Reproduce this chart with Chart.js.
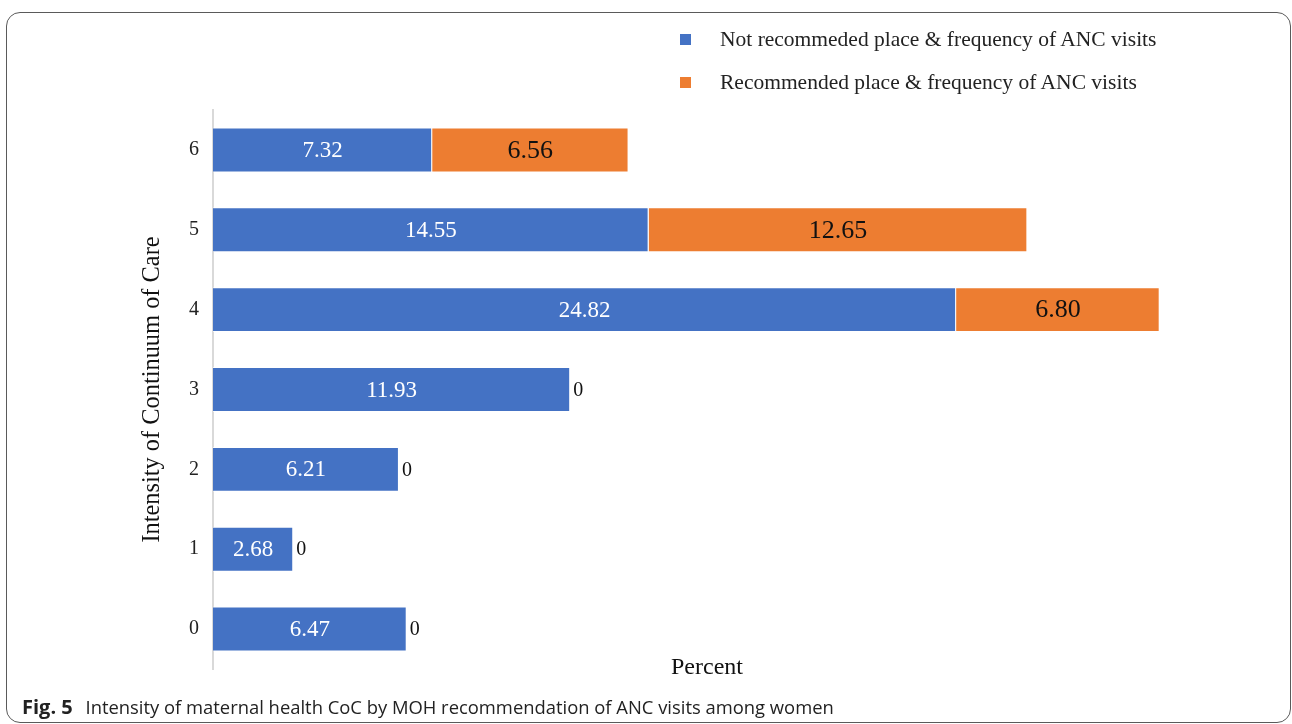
<!DOCTYPE html>
<html>
<head>
<meta charset="utf-8">
<script src="https://cdn.jsdelivr.net/npm/chart.js@4.4.1/dist/chart.umd.min.js"></script>
<style>
  html, body { margin: 0; padding: 0; background: #fff; }
  body { width: 1292px; height: 724px; position: relative; overflow: hidden; }
  #frame {
    position: absolute; left: 6px; top: 12px; width: 1285px; height: 711px;
    box-sizing: border-box; border: 1.5px solid #5a5a5a; border-radius: 14px;
  }
  #wrap { position: absolute; left: 0; top: 0; width: 1292px; height: 700px; }
  #legend {
    position: absolute; left: 680px; top: 22px;
    font-family: "Liberation Serif", "Times New Roman", serif; font-size: 21.5px; color: #222;
  }
  .row { display: flex; align-items: center; height: 34px; margin-bottom: 9px; }
  .sw { width: 11px; height: 11px; margin-right: 29px; }
  #caption {
    position: absolute; left: 22px; top: 693px; white-space: nowrap;
    font-family: "Open Sans", "Noto Sans", sans-serif; font-size: 18.4px; color: #222;
  }
  #caption b { font-weight: 700; font-size: 20px; margin-right: 8px; }
</style>
</head>
<body>
<div id="frame"></div>
<div id="wrap"><canvas id="chart"></canvas></div>
<div id="legend"></div>
<div id="caption"><b>Fig. 5</b> Intensity of maternal health CoC by MOH recommendation of ANC visits among women</div>
<script>
// intensity levels, top to bottom as drawn
const categories = ['6', '5', '4', '3', '2', '1', '0'];
const notRecommended = [7.32, 14.55, 24.82, 11.93, 6.21, 2.68, 6.47];
const recommended = [6.56, 12.65, 6.80, 0, 0, 0, 0];

const seriesNames = [
    'Not recommeded place & frequency of ANC visits',
    'Recommended place & frequency of ANC visits'
];
const BLUE = '#4472C4';
const ORANGE = '#ED7D31';
const SERIF = '"Liberation Serif", "Times New Roman", serif';

// value labels: white inside blue, larger black inside orange, "0" after the bar
const barLabels = {
    id: 'barLabels',
    afterDatasetsDraw(chart) {
        const ctx = chart.ctx;
        ctx.save();
        ctx.textBaseline = 'middle';
        chart.data.datasets.forEach((ds, i) => {
            const meta = chart.getDatasetMeta(i);
            meta.data.forEach((bar, j) => {
                const v = ds.data[j];
                if (v === 0) {
                    ctx.font = '20px ' + SERIF;
                    ctx.fillStyle = '#111';
                    ctx.textAlign = 'left';
                    ctx.fillText('0', bar.x + 3, bar.y + 1);
                    return;
                }
                ctx.textAlign = 'center';
                if (i === 0) {
                    ctx.font = '23px ' + SERIF;
                    ctx.fillStyle = '#fff';
                } else {
                    ctx.font = '26px ' + SERIF;
                    ctx.fillStyle = '#111';
                }
                ctx.fillText(v.toFixed(2), (bar.x + bar.base) / 2, bar.y + 1);
            });
        });
        ctx.restore();
    }
};

const chart = new Chart(document.getElementById('chart'), {
    type: 'bar',
    data: {
        labels: categories,
        datasets: [
            { label: seriesNames[0], data: notRecommended, backgroundColor: BLUE },
            { label: seriesNames[1], data: recommended, backgroundColor: ORANGE }
        ]
    },
    options: {
        indexAxis: 'y',
        responsive: true,
        maintainAspectRatio: false,
        animation: false,
        layout: { padding: { left: 138, right: 91, top: 110, bottom: 18 } },
        datasets: {
            bar: {
                categoryPercentage: 1,
                barPercentage: 0.5625,
                borderColor: 'rgba(255,255,255,0.7)',
                borderWidth: 1
            }
        },
        scales: {
            x: {
                stacked: true,
                min: 0,
                max: 33,
                ticks: { display: false },
                grid: { display: false, drawTicks: false },
                border: { display: false },
                title: {
                    display: true, text: 'Percent', color: '#111',
                    font: { family: SERIF, size: 24 }, padding: 0
                },
                afterFit: s => { s.height = 13; }
            },
            y: {
                stacked: true,
                ticks: { color: '#222', font: { family: SERIF, size: 20 }, padding: 14 },
                grid: { display: false, drawTicks: false },
                border: { display: true, color: '#d9d9d9', width: 2 },
                title: {
                    display: true, text: 'Intensity of Continuum of Care', color: '#111',
                    font: { family: SERIF, size: 24.4 }, padding: 0
                },
                afterFit: s => { s.width = 75; }
            }
        },
        plugins: {
            legend: { display: false },
            tooltip: { enabled: false }
        }
    },
    plugins: [barLabels]
});

// legend built from the chart's datasets
const legendEl = document.getElementById('legend');
chart.data.datasets.forEach(ds => {
    const row = document.createElement('div');
    row.className = 'row';
    row.innerHTML = '<span class="sw" style="background:' + ds.backgroundColor + '"></span>' + ds.label;
    legendEl.appendChild(row);
});
</script>
</body>
</html>
